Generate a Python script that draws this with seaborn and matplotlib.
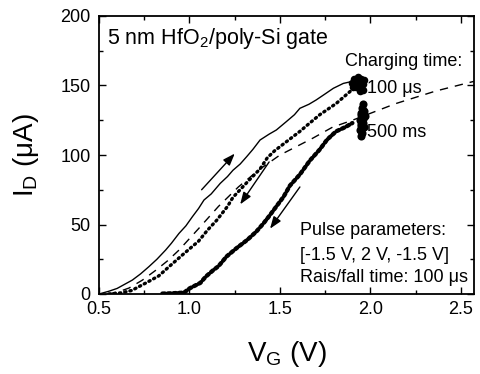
import matplotlib
matplotlib.use("Agg")
import matplotlib.pyplot as plt
import seaborn as sns
from matplotlib.ticker import MultipleLocator

# ---------------- data ----------------
# 100 us charging, up-sweep (solid line)
up100_v = [0.50, 0.555, 0.60, 0.684, 0.73, 0.776, 0.82, 0.868, 0.90, 0.942, 0.98, 1.016,
           1.05, 1.08, 1.12, 1.17, 1.21, 1.24, 1.28, 1.316, 1.35, 1.39, 1.44, 1.48, 1.535,
           1.58, 1.61, 1.66, 1.70, 1.75, 1.795, 1.85, 1.90]
up100_i = [0.0, 2.0, 4.0, 10.0, 14.5, 19.7, 25.0, 31.6, 36.5, 43.6, 49.0, 55.6,
           61.5, 67.6, 72.0, 79.6, 84.5, 89.0, 93.5, 98.8, 104.0, 110.8, 115.0, 118.0, 124.0,
           129.0, 133.6, 136.5, 139.6, 144.0, 148.0, 151.5, 153.0]

# 100 us charging, down-sweep (dotted)
dn100_v = [1.93, 1.89, 1.81, 1.72, 1.66, 1.61, 1.52, 1.47, 1.43, 1.39, 1.33, 1.24,
           1.21, 1.15, 1.10, 1.05, 0.96, 0.89, 0.83, 0.76, 0.68, 0.62, 0.55]
dn100_i = [151.0, 146.0, 137.0, 129.0, 122.5, 117.0, 108.0, 103.0, 98.0, 90.0, 82.0, 69.5,
           63.0, 53.0, 46.0, 38.0, 28.0, 20.0, 13.0, 8.0, 2.5, 0.8, 0.0]

# 500 ms charging (dotted, heavy)
ms500_v = [0.85, 0.90, 0.97, 1.00, 1.06, 1.09, 1.13, 1.16, 1.205, 1.26, 1.32, 1.37,
           1.41, 1.44, 1.48, 1.52, 1.555, 1.61, 1.665, 1.72, 1.76, 1.81, 1.86, 1.90]
ms500_i = [0.3, 0.5, 1.0, 4.0, 8.0, 12.5, 17.0, 20.0, 27.0, 33.0, 39.0, 45.0,
           51.0, 56.0, 63.0, 70.0, 78.0, 86.0, 96.0, 104.0, 111.0, 117.0, 120.0, 123.0]

# clusters at the turning point (V = 2 V)
blob100_v = [1.90, 1.91, 1.93, 1.95, 1.96, 1.96, 1.94, 1.92, 1.93, 1.95, 1.905, 1.965]
blob100_i = [152.0, 155.0, 156.0, 155.0, 151.0, 147.0, 146.0, 149.0, 152.0, 150.0, 149.0, 154.0]
blob500_v = [1.94, 1.95, 1.96, 1.95, 1.955, 1.96, 1.97, 1.965, 1.95, 1.94,
             1.955, 1.945, 1.965, 1.95, 1.96, 1.945]
blob500_i = [118.0, 122.0, 126.0, 130.0, 134.0, 137.0, 128.0, 120.0, 114.0, 125.0,
             116.0, 129.0, 132.0, 126.0, 123.0, 121.0]

# dashed model curve
fit_v = [0.55, 0.61, 0.666, 0.74, 0.813, 0.88, 0.942, 1.05, 1.16, 1.27, 1.38, 1.50,
         1.59, 1.68, 1.79, 1.90, 2.00, 2.14, 2.36, 2.572]
fit_i = [0.0, 1.7, 4.3, 10.0, 17.0, 24.0, 31.6, 47.0, 63.0, 77.0, 89.0, 100.0,
         106.0, 112.0, 120.0, 125.0, 130.0, 137.0, 146.0, 153.0]

# arrows: (tail V, tail I, head V, head I)
arrows = [(1.067, 75.0, 1.25, 101.0),
          (1.44, 95.0, 1.28, 64.5),
          (1.61, 77.0, 1.445, 47.0)]

x_ticks = [0.5, 1.0, 1.5, 2.0, 2.5]
y_ticks = [0, 50, 100, 150, 200]

# ---------------- style ----------------
sns.set_style("ticks")
plt.rcParams['font.family'] = ['Liberation Sans', 'DejaVu Sans']
plt.rcParams['mathtext.fontset'] = 'custom'
plt.rcParams['mathtext.rm'] = 'Liberation Sans'
plt.rcParams['mathtext.it'] = 'Liberation Sans:italic'
plt.rcParams['text.color'] = 'black'
plt.rcParams['axes.labelcolor'] = 'black'
plt.rcParams['xtick.color'] = 'black'
plt.rcParams['ytick.color'] = 'black'

fig = plt.figure(figsize=(4.81, 3.74), dpi=100)
ax = fig.add_axes([99 / 481, 1 - 294 / 374, 375 / 481, 278 / 374])

sns.lineplot(x=fit_v, y=fit_i, ax=ax, sort=False, estimator=None, color='black',
             linewidth=1.0, linestyle=(0, (6, 5)))
sns.lineplot(x=up100_v, y=up100_i, ax=ax, sort=False, estimator=None, color='black',
             linewidth=1.0)
sns.lineplot(x=dn100_v, y=dn100_i, ax=ax, sort=False, estimator=None, color='black',
             linewidth=2.4, linestyle=(0, (0.4, 1.2)), dash_capstyle='round')
sns.lineplot(x=ms500_v, y=ms500_i, ax=ax, sort=False, estimator=None, color='black',
             linewidth=3.1, linestyle=(0, (0.6, 0.7)), dash_capstyle='round')
sns.scatterplot(x=blob100_v, y=blob100_i, ax=ax, color='black', s=30, linewidth=0)
sns.scatterplot(x=blob500_v, y=blob500_i, ax=ax, color='black', s=34, linewidth=0)

for tv, ti, hv, hi in arrows:
    ax.annotate('', xy=(hv, hi), xytext=(tv, ti),
                arrowprops=dict(arrowstyle='-|>,head_length=0.6,head_width=0.22',
                                color='black', lw=1.0, mutation_scale=12,
                                shrinkA=0, shrinkB=0))

ax.set_xlim(0.5, 2.572)
ax.set_ylim(0, 200)
ax.set_xticks(x_ticks)
ax.set_yticks(y_ticks)
ax.set_xticklabels([f"{t:.1f}" for t in x_ticks])
ax.set_yticklabels([str(t) for t in y_ticks])
ax.xaxis.set_minor_locator(MultipleLocator(0.25))
ax.yaxis.set_minor_locator(MultipleLocator(25))
ax.tick_params(which='both', direction='in', top=True, right=True, width=1.0,
               color='black', labelsize=13, labelcolor='black')
ax.tick_params(which='major', length=5)
ax.tick_params(which='minor', length=3)
ax.tick_params(axis='y', pad=6)
ax.tick_params(axis='x', pad=5)
for s in ax.spines.values():
    s.set_linewidth(1.3)
    s.set_color('black')
    s.set_visible(True)

ax.set_xlabel(r"V$\mathregular{_G}$ (V)", fontsize=20, labelpad=15, color='black')
ax.set_ylabel(r"I$\mathregular{_D}$ (μA)", fontsize=20, labelpad=14, color='black')

ax.text(0.544, 184, r"5 nm HfO$\mathregular{_2}$/poly-Si gate", fontsize=15.5,
        ha='left', va='center', color='black')
ax.text(2.505, 167, "Charging time:", fontsize=13, ha='right', va='center', color='black')
ax.text(1.98, 148, "100 μs", fontsize=13, ha='left', va='center', color='black')
ax.text(1.98, 116, "500 ms", fontsize=13, ha='left', va='center', color='black')
ax.text(1.61, 46, "Pulse parameters:", fontsize=13, ha='left', va='center', color='black')
ax.text(1.61, 28, "[-1.5 V, 2 V, -1.5 V]", fontsize=13, ha='left', va='center', color='black')
ax.text(1.61, 12.2, "Rais/fall time: 100 μs", fontsize=13, ha='left', va='center', color='black')

fig.savefig("out.png", dpi=100)
